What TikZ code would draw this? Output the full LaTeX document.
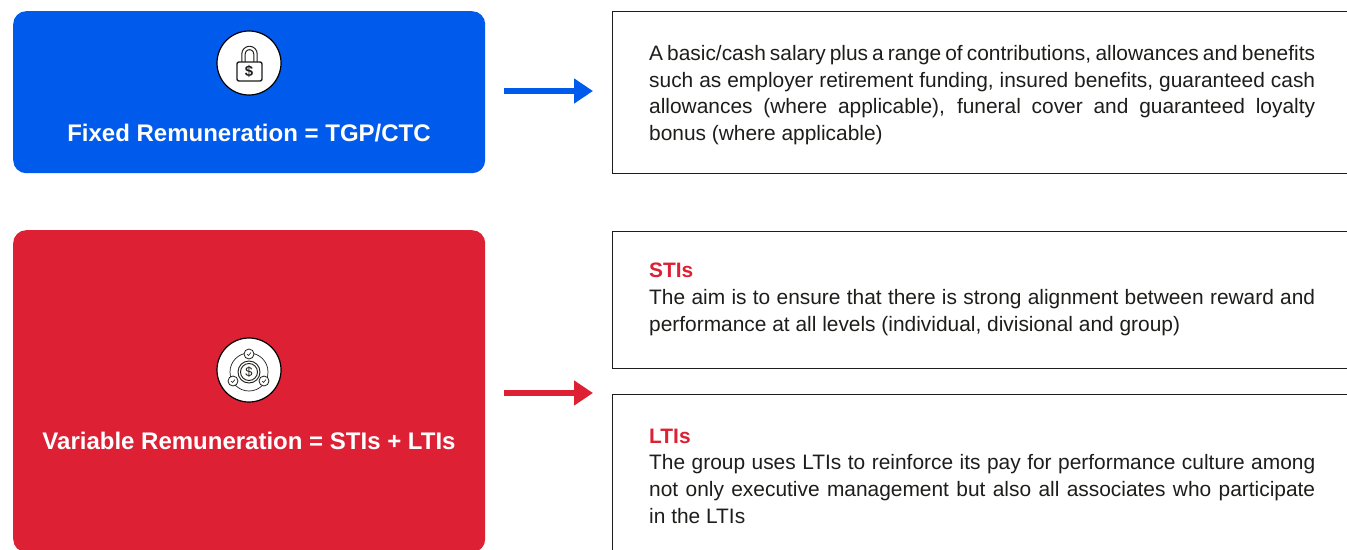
\documentclass[tikz,border=0pt]{standalone}
\usepackage{fontspec}
\setmainfont{Liberation Sans}
\usetikzlibrary{arrows.meta,calc}
\definecolor{fixedblue}{RGB}{0,90,235}
\definecolor{varred}{RGB}{221,32,52}
\definecolor{inkblack}{RGB}{29,29,27}
\newcommand{\fullline}[1]{\hbox to 666pt{#1}}

\begin{document}
\begin{tikzpicture}[x=1pt,y=-1pt]
    % `panel' is used for the two coloured boxes on the left.
    % `outline' is used for the boxes with text, they run off the right edge.
    \tikzstyle{panel} = [rounded corners=13pt,minimum width=472pt,anchor=north west,inner sep=0pt]
    \tikzstyle{outline} = [draw=inkblack,line width=1.1pt,minimum width=800pt,anchor=north west,inner sep=0pt]
    \tikzstyle{title} = [text=white,font=\fontsize{24}{28}\selectfont\bfseries,inner sep=0pt]
    \tikzstyle{bodytext} = [text=inkblack,align=left,anchor=north west,inner sep=0pt,
      font=\fontsize{20.9}{26.7}\selectfont]
    \tikzstyle{badge} = [draw=black,fill=white,line width=1.2pt,shape=circle,minimum size=64pt,inner sep=0pt]
    \tikzstyle{pointer} = [line width=6pt,-{Triangle[length=19pt,width=24pt]}]
    \tikzstyle{icon} = [draw=inkblack,line width=0.9pt]
    \tikzstyle{tick} = [draw=inkblack,fill=white,line width=0.8pt,shape=circle,minimum size=10pt,inner sep=0pt]
    %
    \useasboundingbox (0,0) rectangle (1347,549);
    \clip (0,0) rectangle (1347,549);

    % Left panels.
    \node[panel,fill=fixedblue,minimum height=162pt] (fixed) at (13,11) {};
    \node[panel,fill=varred,minimum height=322pt] (variable) at (13,230) {};
    \node[title] (fixedtitle) at (249,133.5) {Fixed Remuneration = TGP/CTC};
    \node[title] (variabletitle) at (249,440.5) {Variable Remuneration = STIs + LTIs};

    % Padlock badge.
    \node[badge] (lock) at (249,63) {};
    \draw[icon,line width=4.4pt] (243.5,62) -- (243.5,54) arc[start angle=180,end angle=360,radius=6] -- (255.5,62);
    \draw[white,line width=2.2pt] (243.5,63) -- (243.5,54) arc[start angle=180,end angle=360,radius=6] -- (255.5,63);
    \node[icon,line width=1.4pt,fill=white,rounded corners=2pt,minimum width=25pt,minimum height=19pt,inner sep=0pt] (lockbody) at (249.5,71.5) {};
    \node[inner sep=0pt,text=inkblack,font=\fontsize{15}{15}\selectfont\bfseries] (lockdollar) at (249,71.5) {\$};

    % Coin badge.
    \node[badge] (coin) at (249,370) {};
    \draw[icon,line width=0.7pt] (249,372) circle[radius=19pt];
    \node[icon,fill=white,shape=circle,minimum size=22pt,inner sep=0pt] (coinouter) at (249,372) {};
    \node[icon,shape=circle,minimum size=17pt,inner sep=0pt,font=\fontsize{13}{13}\selectfont,text=inkblack] (coininner) at (249,372) {\$};
    \node[tick] (ticktop) at (249,354) {};
    \node[tick] (tickleft) at (233,381) {};
    \node[tick] (tickright) at (264,381) {};
    \draw[icon,line width=0.6pt] (247,354) -- (248.5,355.5) -- (251,352.5);
    \draw[icon,line width=0.6pt] (231,381) -- (232.5,382.5) -- (235,379.5);
    \draw[icon,line width=0.6pt] (262,381) -- (263.5,382.5) -- (266,379.5);

    % Text boxes.
    \node[outline,minimum height=162pt] (fixedbox) at (612,11) {};
    \node[outline,minimum height=137pt] (stibox) at (612,231) {};
    \node[outline,minimum height=200pt] (ltibox) at (612,394) {};

    \node[bodytext] (fixedtext) at (649,45) {\fullline{A basic/cash salary plus a range of contributions, allowances and benefits}\\
      \fullline{such as employer retirement funding, insured benefits, guaranteed cash}\\
      \fullline{allowances (where applicable), funeral cover and guaranteed loyalty}\\
      bonus (where applicable)};
    \node[bodytext] (stitext) at (649,263) {{\color{varred}\bfseries STIs}\\
      \fullline{The aim is to ensure that there is strong alignment between reward and}\\
      performance at all levels (individual, divisional and group)};
    \node[bodytext] (ltitext) at (649,428.5) {{\color{varred}\bfseries LTIs}\\
      \fullline{The group uses LTIs to reinforce its pay for performance culture among}\\
      \fullline{not only executive management but also all associates who participate}\\
      in the LTIs};

    % Arrows between the panels and the text boxes.
    \coordinate (fixedstart) at (504,91);
    \coordinate (fixedend) at (593,91);
    \coordinate (varstart) at (504,393);
    \coordinate (varend) at (593,393);
    \draw[pointer,fixedblue] (fixedstart) -- (fixedend);
    \draw[pointer,varred] (varstart) -- (varend);
\end{tikzpicture}
\end{document}
